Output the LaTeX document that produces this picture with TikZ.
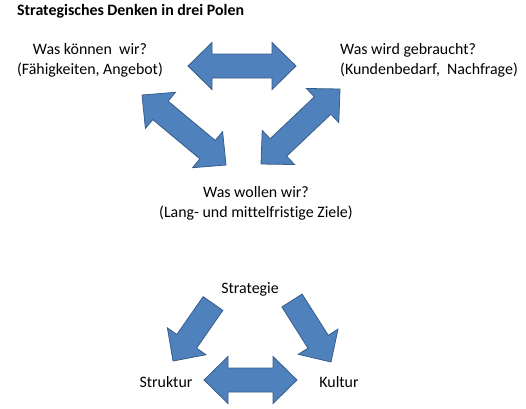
\documentclass[tikz,border=0pt]{standalone}
\usepackage{fontspec}
\setmainfont[Ligatures=NoCommon]{Carlito}
\usetikzlibrary{calc}
\definecolor{pfeilblau}{HTML}{4F81BD}
\definecolor{pfeilrand}{HTML}{385D8A}
\tikzset{
  pfeil/.style={fill=pfeilblau,draw=pfeilrand,line width=0.8pt,line join=miter},
  pol/.style={inner sep=0pt,font=\fontsize{15.9}{20.5}\selectfont},
}
% block arrows between two named coordinates
\newcommand{\doppelpfeil}[2]{%
  \coordinate (ha) at ($(#1)!24pt!(#2)$);
  \coordinate (hb) at ($(#2)!24pt!(#1)$);
  \draw[pfeil] (#1) -- ($(ha)!23.5pt!90:(#2)$) -- ($(ha)!12pt!90:(#2)$) -- ($(hb)!12pt!90:(#2)$)
    -- ($(hb)!23.5pt!90:(#2)$) -- (#2) -- ($(hb)!23.5pt!-90:(#2)$) -- ($(hb)!12pt!-90:(#2)$)
    -- ($(ha)!12pt!-90:(#2)$) -- ($(ha)!23.5pt!-90:(#2)$) -- cycle;}
\newcommand{\einzelpfeil}[2]{%
  \coordinate (hb) at ($(#2)!24pt!(#1)$);
  \draw[pfeil] ($(#1)!12pt!90:(#2)$) -- ($(hb)!12pt!90:(#2)$) -- ($(hb)!23.5pt!90:(#2)$) -- (#2)
    -- ($(hb)!23.5pt!-90:(#2)$) -- ($(hb)!12pt!-90:(#2)$) -- ($(#1)!12pt!-90:(#2)$) -- cycle;}

\begin{document}
\begin{tikzpicture}[x=1pt,y=-1pt]
  \useasboundingbox (0,0) rectangle (526,408);
  \node[pol,anchor=base west,font=\fontsize{15.9}{20.5}\selectfont\bfseries] (titel) at (17,15.5) {Strategisches Denken in drei Polen};
  % drei Pole
  \node[pol,align=center] (koennen) at (90,60.5) {Was können\ \ wir?\\(Fähigkeiten, Angebot)};
  \node[pol,align=left,anchor=west] (gebraucht) at (340,60.5) {Was wird gebraucht?\\(Kundenbedarf,\ \ Nachfrage)};
  \node[pol,align=center] (wollen) at (256,203.5) {Was wollen wir?\\(Lang- und mittelfristige Ziele)};
  \coordinate (kw1) at (188,66); \coordinate (kw2) at (296,66);
  \coordinate (kz1) at (142,95); \coordinate (kz2) at (226,165);
  \coordinate (gz1) at (340,89); \coordinate (gz2) at (261,164);
  \doppelpfeil{kw1}{kw2}
  \doppelpfeil{kz1}{kz2}
  \doppelpfeil{gz1}{gz2}
  % Strategie, Struktur, Kultur
  \node[pol,anchor=base] (strategie) at (250,293) {Strategie};
  \node[pol,anchor=base] (struktur) at (166,387.5) {Struktur};
  \node[pol,anchor=base] (kultur) at (339,387.5) {Kultur};
  \coordinate (st1) at (213,303.5); \coordinate (st2) at (173,361);
  \coordinate (sk1) at (292,300.5); \coordinate (sk2) at (331,362);
  \coordinate (tk1) at (204,380); \coordinate (tk2) at (297,380);
  \einzelpfeil{st1}{st2}
  \einzelpfeil{sk1}{sk2}
  \doppelpfeil{tk1}{tk2}
\end{tikzpicture}
\end{document}
